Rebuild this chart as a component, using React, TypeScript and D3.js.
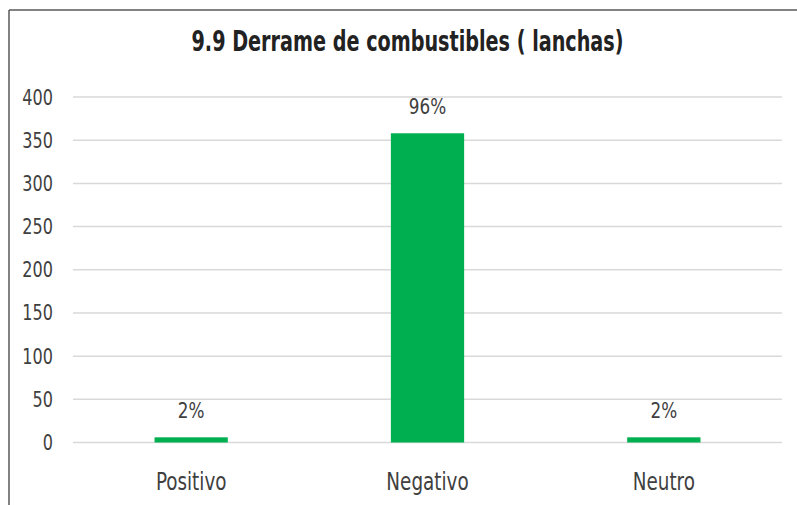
import React from "react";
import * as d3 from "d3";

const categories = ["Positivo", "Negativo", "Neutro"];
const values = [6, 358, 6];
const percentLabels = ["2%", "96%", "2%"];
const yTicks = [0, 50, 100, 150, 200, 250, 300, 350, 400];
const title = "9.9 Derrame de combustibles ( lanchas)";

const W = 797;
const H = 505;
const FONT = "'Liberation Sans Narrow', 'DejaVu Sans Condensed', 'Liberation Sans', Arial, sans-serif";
const SX = 0.85;

function NText(props: {
  x: number;
  y: number;
  anchor: "start" | "middle" | "end";
  size: number;
  fill: string;
  children: React.ReactNode;
}) {
  return (
    <g transform={`translate(${props.x},${props.y}) scale(${SX},1)`}>
      <text
        x={0}
        y={0}
        textAnchor={props.anchor}
        fontFamily={FONT}
        fontSize={props.size}
        fill={props.fill}
      >
        {props.children}
      </text>
    </g>
  );
}

export default function App() {
  const y = d3.scaleLinear().domain([0, 400]).range([442.5, 97]);
  const x = d3
    .scaleBand<string>()
    .domain(categories)
    .range([73, 782])
    .paddingInner(0.69)
    .paddingOuter(0.345);

  return (
    <svg
      width={W}
      height={H}
      style={{ position: "absolute", left: 0, top: 0, background: "#fff" }}
    >
      <rect x={0} y={0} width={W} height={H} fill="#fff" />
      {/* frame */}
      <line x1={9} y1={10} x2={W} y2={10} stroke="#595959" strokeWidth={1.5} />
      <line x1={9} y1={10} x2={9} y2={H} stroke="#595959" strokeWidth={1.5} />

      {/* title */}
      <text
        x={407.5}
        y={50.5}
        textAnchor="middle"
        fontFamily={FONT}
        fontWeight="bold"
        fontSize={29}
        fill="#222"
        textLength={432}
        lengthAdjust="spacingAndGlyphs"
      >
        {title}
      </text>

      {/* gridlines and y ticks */}
      {yTicks.map((t) => (
        <g key={t}>
          <line
            x1={73}
            x2={782}
            y1={y(t)}
            y2={y(t)}
            stroke="#d9d9d9"
            strokeWidth={1.5}
          />
          <NText x={53} y={y(t) + 7.5} anchor="end" size={21} fill="#404040">
            {t}
          </NText>
        </g>
      ))}

      {/* bars */}
      {categories.map((c, i) => {
        const bx = x(c) as number;
        const bw = x.bandwidth();
        const top = y(values[i]);
        return (
          <g key={c}>
            <rect
              x={bx}
              y={top}
              width={bw}
              height={y(0) - top}
              fill="#00B050"
            />
            <NText x={bx + bw / 2} y={top - 19.5} anchor="middle" size={22} fill="#404040">
              {percentLabels[i]}
            </NText>
            <NText x={bx + bw / 2} y={490} anchor="middle" size={24} fill="#404040">
              {c}
            </NText>
          </g>
        );
      })}
    </svg>
  );
}
